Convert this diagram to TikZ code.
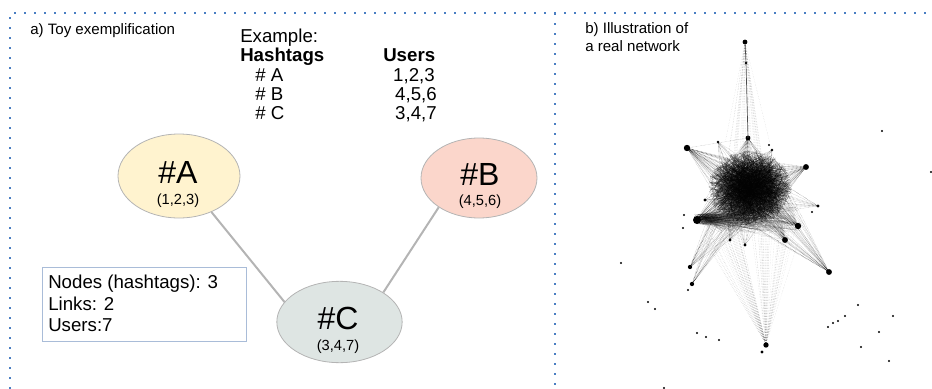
\documentclass[tikz,border=0pt]{standalone}
\usepackage{fontspec}
\setmainfont{Liberation Sans}
\usetikzlibrary{shapes.geometric}
\usepackage{xcolor}

\definecolor{frameblue}{HTML}{4A7EC2}
\definecolor{tagA}{HTML}{FFF3CF}
\definecolor{tagB}{HTML}{FBD6CB}
\definecolor{tagC}{HTML}{DEE5E3}
\definecolor{tagline}{HTML}{B4B4B4}
\definecolor{boxline}{HTML}{A9BCD8}

\begin{document}
\begin{tikzpicture}[x=0.75pt,y=-0.75pt,
  frame/.style={frameblue,line width=1.5pt,dash pattern=on 1.5pt off 6pt},
  tag/.style={ellipse,draw=tagline,line width=0.6pt,inner sep=0pt},
  link/.style={tagline,line width=1.5pt},
  txt/.style={inner sep=0pt,font=\fontsize{14pt}{16pt}\selectfont},
  title/.style={inner sep=0pt,anchor=base west,font=\fontsize{11.3pt}{14pt}\selectfont},
  tagname/.style={inner sep=0pt,anchor=base,font=\fontsize{24pt}{26pt}\selectfont},
  tagusers/.style={inner sep=0pt,anchor=base,font=\fontsize{11pt}{13pt}\selectfont},
  edge/.style={line width=0.25pt,black,opacity=0.3,dash pattern=on 0.4pt off 0.6pt},
  faint/.style={line width=0.2pt,black!60,opacity=0.35,dash pattern=on 0.3pt off 0.9pt}]
\useasboundingbox (0,0) rectangle (932,389);

% panels
\draw[frame] (10,389) -- (10,13) -- (932,13);
\draw[frame] (555,13) -- (555,389);
\node[title] (titleA) at (30,34) {a) Toy exemplification};
\node[title,align=left,anchor=north west] (titleB) at (585,22) {b) Illustration of\\a real network};

% example table
\node[txt,anchor=base west] (ex) at (240,42) {Example:};
\node[txt,anchor=base west,font=\fontsize{14pt}{16pt}\selectfont\bfseries] (hHash) at (240,61) {Hashtags};
\node[txt,anchor=base west,font=\fontsize{14pt}{16pt}\selectfont\bfseries] (hUsers) at (383,61) {Users};
\node[txt,anchor=base west] (rA) at (255,81) {\# A};
\node[txt,anchor=base west] (rB) at (255,100) {\# B};
\node[txt,anchor=base west] (rC) at (255,119) {\# C};
\node[txt,anchor=base east] (uA) at (435,81) {1,2,3};
\node[txt,anchor=base east] (uB) at (437,100) {4,5,6};
\node[txt,anchor=base east] (uC) at (437,119) {3,4,7};

% hashtag graph
\node[tag,fill=tagA,minimum width=91.5pt,minimum height=63pt] (A) at (179,176) {};
\node[tag,fill=tagB,minimum width=87pt,minimum height=60pt] (B) at (479,178) {};
\node[tag,fill=tagC,minimum width=94pt,minimum height=61pt] (C) at (339.5,322) {};
\node[tagname] (Aname) at (178,183) {\#A};
\node[tagusers] (Ausers) at (178,204) {(1,2,3)};
\node[tagname] (Bname) at (480,185) {\#B};
\node[tagusers] (Busers) at (480,205) {(4,5,6)};
\node[tagname] (Cname) at (338,329) {\#C};
\node[tagusers] (Cusers) at (338,350) {(3,4,7)};
\draw[link] (A.-48) -- (C.160);
\draw[link] (B.-144) -- (C.34);

% stats
\node[draw=boxline,line width=0.6pt,minimum width=153pt,minimum height=55.5pt,anchor=north west,inner sep=0pt] (stats) at (42,267) {};
\node[txt,anchor=base west] (s1) at (48,288) {Nodes (hashtags): 3};
\node[txt,anchor=base west] (s2) at (48,310) {Links: 2};
\node[txt,anchor=base west] (s3) at (48,331) {Users:7};

% real network
\pgfmathsetseed{11}
% bottom fan and top spike
\foreach \j in {1,...,70}{
  \pgfmathsetmacro\tx{705+95*rnd}\pgfmathsetmacro\ty{215+30*rnd}
  \draw[faint] (766,344) -- (\tx,\ty);
}
\foreach \j in {1,...,30}{
  \pgfmathsetmacro\tx{725+45*rnd}\pgfmathsetmacro\ty{140+40*rnd}
  \draw[faint] (745,42) -- (\tx,\ty);
}
% dense core
\foreach \i in {1,...,1500}{
  \pgfmathsetmacro\ra{360*rnd}\pgfmathsetmacro\rr{rnd^0.7}
  \pgfmathsetmacro\rb{360*rnd}\pgfmathsetmacro\rs{rnd^0.7}
  \pgfmathsetmacro\xa{750+42*\rr*cos(\ra)}\pgfmathsetmacro\ya{188+38*\rr*sin(\ra)}
  \pgfmathsetmacro\xb{750+42*\rs*cos(\rb)}\pgfmathsetmacro\yb{188+38*\rs*sin(\rb)}
  \draw[line width=0.25pt,black,opacity=0.35] (\xa,\ya) -- (\xb,\yb);
}
% lower band of the core
\foreach \i in {1,...,260}{
  \pgfmathsetmacro\xa{700+6*rand}\pgfmathsetmacro\ya{219+5*rand}
  \pgfmathsetmacro\xb{715+85*rnd}\pgfmathsetmacro\yb{205+28*rnd}
  \draw[edge] (\xa,\ya) -- (\xb,\yb);
}
% hubs
\foreach \hx/\hy/\n/\s in {687/148/45/2.4,697/220/60/3,806/167/40/2.2,798/226/45/2.4,785/240/30/2.2,
                          829/272/30/2.2,690/267/18/1.6,692/284/14/1.6,748/138/40/1.8,
                          718/142/12/1,772/150/12/1,730/240/15/1.2,745/245/12/1.2,705/200/10/1.2,818/206/12/1.2}{
  \foreach \j in {1,...,\n}{
    \pgfmathsetmacro\ra{360*rnd}\pgfmathsetmacro\rr{sqrt(rnd)}
    \pgfmathsetmacro\xa{750+36*\rr*cos(\ra)}\pgfmathsetmacro\ya{190+32*\rr*sin(\ra)}
    \draw[edge] (\hx,\hy) -- (\xa,\ya);
  }
  \fill (\hx,\hy) circle (\s pt);
}
\draw[edge] (697,220) -- (798,226) (697,220) -- (785,240) (687,148) -- (748,138)
            (798,226) -- (829,272) (785,240) -- (829,272) (690,267) -- (730,240);
\draw[line width=0.5pt,black!70] (745,42) -- (746,63) -- (748,138);
\fill (745,42) circle (1.8pt);
\fill (746,63) circle (1pt);
\fill (766,345) circle (2pt);
\fill (762,352) circle (1.2pt);
\foreach \px/\py in {882/131,931/172,621/263,648/302,655/309,697/333,706/337,719/340,
                     858/305,893/316,845/316,838/321,833/323,828/327,879/332,861/347,
                     889/361,664/388,683/228,688/290,684/215,812/212,769/145}
  \fill (\px,\py) circle (0.8pt);
\end{tikzpicture}
\end{document}
